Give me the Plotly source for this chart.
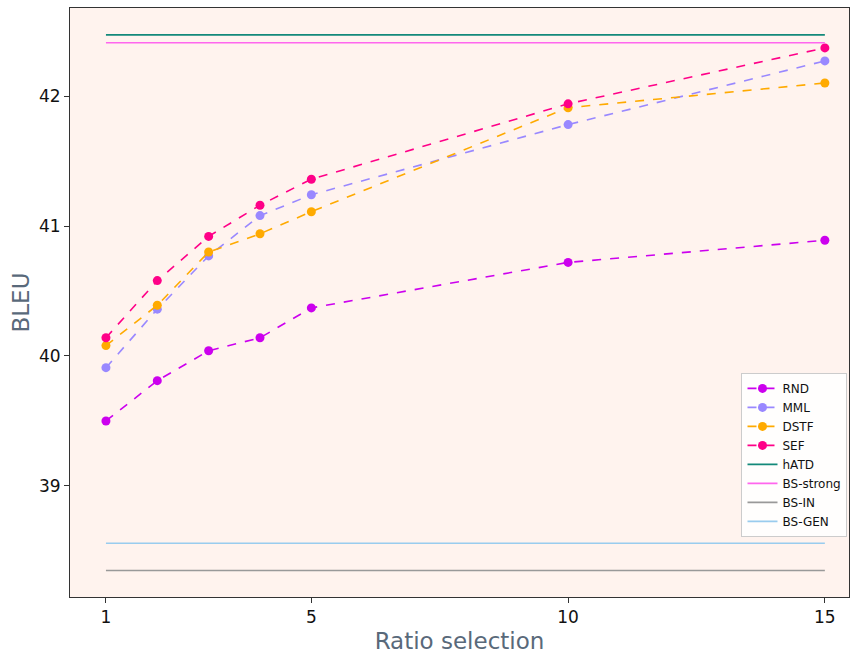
import plotly.graph_objects as go

ratios = [1, 2, 3, 4, 5, 10, 15]
rnd = [39.50, 39.81, 40.04, 40.14, 40.37, 40.72, 40.89]
mml = [39.91, 40.36, 40.77, 41.08, 41.24, 41.78, 42.27]
dstf = [40.08, 40.39, 40.80, 40.94, 41.11, 41.91, 42.10]
sef = [40.14, 40.58, 40.92, 41.16, 41.36, 41.94, 42.37]

baseline_names = ["hATD", "BS-strong", "BS-IN", "BS-GEN"]
baseline_values = [42.47, 42.41, 38.35, 38.56]

series = [("RND", rnd, "#cc00ee"), ("MML", mml, "#9988ff"),
          ("DSTF", dstf, "#ffaa00"), ("SEF", sef, "#ff0088")]
baseline_colors = ["#13897a", "#ff66ee", "#999999", "#99ccee"]

fig = go.Figure()
for name, vals, col in series:
    fig.add_trace(go.Scatter(x=ratios, y=vals, name=name, mode="lines+markers",
                             line=dict(color=col, width=1.6, dash="dash"),
                             marker=dict(color=col, size=9)))
for name, val, col in zip(baseline_names, baseline_values, baseline_colors):
    fig.add_trace(go.Scatter(x=[ratios[0], ratios[-1]], y=[val, val], name=name,
                             mode="lines", line=dict(color=col, width=1.6)))

axis_common = dict(showgrid=False, zeroline=False, showline=True, linecolor="#333333",
                   linewidth=1, mirror=True, ticks="outside", ticklen=5, tickcolor="#333333",
                   tickfont=dict(family="DejaVu Sans", size=17, color="#111111"))
fig.update_xaxes(range=[0.30, 15.47], tickvals=[1, 5, 10, 15],
                 title=dict(text="Ratio selection", standoff=6,
                            font=dict(family="DejaVu Sans", size=23, color="#59697a")),
                 **axis_common)
fig.update_yaxes(range=[38.146, 42.677], tickvals=[39, 40, 41, 42],
                 title=dict(text="BLEU", standoff=2,
                            font=dict(family="DejaVu Sans", size=23, color="#59697a")),
                 **axis_common)
fig.update_layout(width=850, height=658, margin=dict(l=70, r=1, t=8, b=61),
                  plot_bgcolor="#fff3ee", paper_bgcolor="white",
                  legend=dict(x=0.862, y=0.102, xanchor="left", yanchor="bottom",
                              bgcolor="rgba(255,255,255,0.85)", bordercolor="#cccccc",
                              borderwidth=1, font=dict(family="DejaVu Sans", size=12, color="#111111"),
                              tracegroupgap=0, itemwidth=30),
                  showlegend=True)
fig.write_html("out.html")
